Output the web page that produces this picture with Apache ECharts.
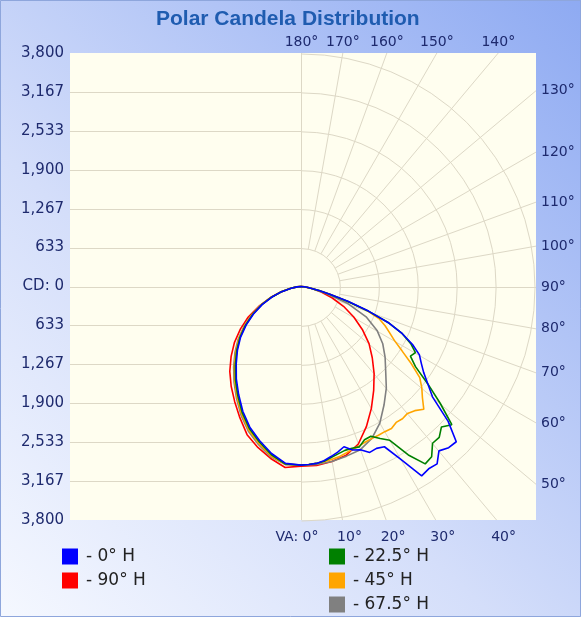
<!DOCTYPE html>
<html>
<head>
<meta charset="utf-8">
<title>Polar Candela Distribution</title>
<script src="https://cdn.jsdelivr.net/npm/echarts@6/dist/echarts.min.js"></script>
<style>
  html, body { margin: 0; padding: 0; }
  #chart { width: 581px; height: 617px; }
</style>
</head>
<body>
<div id="chart"></div>
<script>
// vertical angles (deg); the noisy planes were read every 2.5, the smooth ones every 5
const vaFine = [0, 2.5, 5, 7.5, 10, 12.5, 15, 17.5, 20, 22.5, 25, 27.5, 30, 32.5, 35, 37.5, 40, 42.5,
  45, 47.5, 50, 52.5, 55, 57.5, 60, 62.5, 65, 67.5, 70, 72.5, 75, 77.5, 80, 82.5, 85, 87.5, 90];
const vaCoarse = [0, 5, 10, 15, 20, 25, 30, 35, 40, 45, 50, 55, 60, 65, 70, 75, 80, 85, 90];

// candela on the right half (H) of each plane, vaFine / vaCoarse
const cdH0 = [2907, 2900, 2890, 2860, 2810, 2760, 2700, 2790, 2826, 2923, 2907, 2940, 3250, 3654, 3622, 3638, 3492, 3557,
  3573, 3248, 2793, 2600, 2436, 2320, 2225, 2046, 1819, 1540, 1169, 800, 487, 300, 162, 100, 49, 20, 0];
const cdH22 = [2907, 2900, 2890, 2870, 2826, 2790, 2761, 2760, 2777, 2700, 2690, 2790, 2890, 3250, 3524, 3492, 3330, 3329,
  3232, 3329, 2956, 2598, 2274, 2111, 2150, 2014, 1819, 1543, 1150, 780, 480, 290, 160, 95, 49, 20, 0];
const cdH45 = [2907, 2900, 2890, 2875, 2858, 2840, 2810, 2780, 2761, 2740, 2728, 2730, 2728, 2740, 2700, 2712, 2696, 2740,
  2826, 2680, 2566, 2436, 2192, 1949, 1754, 1624, 1510, 1380, 1137, 780, 487, 300, 162, 95, 49, 20, 0];
const cdH67 = [2907, 2907, 2891, 2858, 2826, 2728, 2566, 2355, 2160, 1949, 1786, 1624, 1429, 1169, 812, 406, 146, 49, 0];
const cdH90 = [2923, 2923, 2891, 2842, 2728, 2517, 2290, 2062, 1851, 1640, 1445, 1218, 991, 763, 536, 341, 179, 65, 0];

// candela on the left half (H + 180), vaCoarse
const cdH180 = [2907, 2890, 2760, 2598, 2436, 2241, 2030, 1835, 1640, 1462, 1283, 1088, 893, 698, 503, 325, 162, 65, 0];
const cdH202 = [2907, 2900, 2780, 2620, 2460, 2265, 2055, 1858, 1662, 1480, 1300, 1105, 905, 710, 510, 330, 165, 65, 0];
const cdH225 = [2907, 2905, 2800, 2645, 2485, 2290, 2080, 1880, 1685, 1500, 1320, 1120, 920, 720, 518, 335, 168, 65, 0];
const cdH247 = [2907, 2910, 2815, 2665, 2505, 2310, 2100, 1900, 1705, 1520, 1335, 1135, 930, 728, 522, 338, 170, 65, 0];
const cdH270 = [2923, 2956, 2842, 2712, 2566, 2355, 2160, 1981, 1803, 1608, 1413, 1202, 991, 747, 536, 341, 179, 65, 0];

const cdTicks = [0, 633, 1267, 1900, 2533, 3167, 3800];
const vaTicks = [0, 10, 20, 30, 40, 50, 60, 70, 80, 90, 100, 110, 120, 130, 140, 150, 160, 170, 180];
const cdMax = 3800;

const gridColor = "#ddd8c6";
const labelColor = "#1e2a6e";
const labelFont = '14px "DejaVu Sans"';

// one closed curve: right half going up from VA 0, then left half coming back down
function plane(vaR, right, vaL, left) {
  const pts = [];
  vaR.forEach((va, i) => {
    const a = (va * Math.PI) / 180;
    pts.push([right[i] * Math.sin(a), -right[i] * Math.cos(a)]);
  });
  for (let i = vaL.length - 1; i >= 0; i--) {
    const a = (vaL[i] * Math.PI) / 180;
    pts.push([-left[i] * Math.sin(a), -left[i] * Math.cos(a)]);
  }
  return pts;
}

function drawGrid(params, api) {
  const box = params.coordSys;
  const c = api.coord([0, 0]);
  const k = (c[1] - api.coord([0, cdMax])[1]) / cdMax;
  const cx = Math.round(c[0]) + 0.5;
  const cy = Math.round(c[1]) + 0.5;
  const right = box.x + box.width;
  const bottom = box.y + box.height;
  const kids = [];
  const line = (x1, y1, x2, y2) =>
    kids.push({ type: "line", shape: { x1, y1, x2, y2 }, style: { stroke: gridColor, lineWidth: 1 } });
  const text = (x, y, t, align, vAlign) =>
    kids.push({ type: "text", x, y, style: { text: t, fill: labelColor, font: labelFont, align, verticalAlign: vAlign } });

  // left half: horizontal candela lines; right half: arcs
  cdTicks.slice(1).forEach((t) => {
    [t, -t].forEach((v) => {
      const y = Math.round(api.coord([0, v])[1]) + 0.5;
      if (y > box.y + 1 && y < bottom - 1) line(box.x, y, cx, y);
    });
    kids.push({
      type: "arc",
      shape: { cx, cy, r: t * k, startAngle: -Math.PI / 2, endAngle: Math.PI / 2, clockwise: true },
      style: { stroke: gridColor, fill: "none", lineWidth: 1 },
    });
  });
  line(box.x, cy, right, cy);
  line(cx, box.y, cx, bottom);

  // radial lines out to the frame, angle labels outside it
  const r0 = cdTicks[1] * k;
  vaTicks.forEach((va) => {
    const a = (va * Math.PI) / 180;
    const s = Math.sin(a);
    const co = Math.cos(a);
    const tx = s > 1e-6 ? (right - cx) / s : Infinity;
    const ty = co > 1e-6 ? (bottom - cy) / co : co < -1e-6 ? (box.y - cy) / co : Infinity;
    const t = Math.min(tx, ty);
    const ex = cx + s * t;
    const ey = cy + co * t;
    if (va % 90 !== 0) line(cx + s * r0, cy + co * r0, ex, ey);
    if (tx <= ty) text(right + 5, ey, va + "°", "left", "middle");
    else if (co > 0) {
      if (va === 0) text(ex + 17, bottom + 10, "VA: 0°", "right", "top");
      else text(ex + 7, bottom + 10, va + "°", "center", "top");
    } else text(ex, box.y - 4, va + "°", "center", "bottom");
  });
  return { type: "group", children: kids };
}

function fmtCd(v) {
  const n = Math.round(Math.abs(v));
  return n === 0 ? "CD: 0" : n.toLocaleString("en-US");
}

const legendBase = {
  orient: "vertical",
  top: 548,
  padding: 0,
  icon: "rect",
  itemWidth: 16,
  itemHeight: 16,
  itemGap: 7,
  formatter: (name) => "- " + name,
  itemStyle: { borderWidth: 0 },
  textStyle: { fontFamily: "DejaVu Sans", fontSize: 17, color: "#222", padding: [0, 0, 0, 3] },
};

const chart = echarts.init(document.getElementById("chart"));
chart.setOption({
  animation: false,
  backgroundColor: new echarts.graphic.LinearGradient(0, 1, 1, 0, [
    { offset: 0, color: "#f5f8ff" },
    { offset: 0.4, color: "#d4defa" },
    { offset: 1, color: "#8eaaf2" },
  ]),
  title: {
    text: "Polar Candela Distribution",
    left: 151,
    top: 4,
    textStyle: { fontFamily: "Liberation Sans", fontSize: 21, fontWeight: "bold", color: "#1f5cb0" },
  },
  graphic: [
    {
      type: "rect",
      shape: { x: 0.5, y: 0.5, width: 580, height: 616 },
      style: { fill: "none", stroke: "#8ea6dc", lineWidth: 1 },
      silent: true,
    },
  ],
  legend: [
    Object.assign({ left: 62, data: ["0° H", "90° H"] }, legendBase),
    Object.assign({ left: 329, data: ["22.5° H", "45° H", "67.5° H"] }, legendBase),
  ],
  grid: { left: 70, top: 53, width: 466, height: 467, show: true, backgroundColor: "#fffeef", borderWidth: 0 },
  xAxis: { type: "value", min: -3759, max: 3824, show: false },
  yAxis: {
    type: "value",
    min: -cdMax,
    max: cdMax,
    interval: cdMax / 6,
    axisLine: { show: false },
    axisTick: { show: false },
    splitLine: { show: false },
    axisLabel: { formatter: fmtCd, color: labelColor, fontFamily: "DejaVu Sans", fontSize: 15, margin: 6 },
  },
  series: [
    { type: "custom", silent: true, z: 1, data: [[0, 0]], renderItem: drawGrid },
    { name: "90° H", type: "line", color: "#ff0000", data: plane(vaCoarse, cdH90, vaCoarse, cdH270) },
    { name: "67.5° H", type: "line", color: "#808080", data: plane(vaCoarse, cdH67, vaCoarse, cdH247) },
    { name: "45° H", type: "line", color: "#ffa500", data: plane(vaFine, cdH45, vaCoarse, cdH225) },
    { name: "22.5° H", type: "line", color: "#008000", data: plane(vaFine, cdH22, vaCoarse, cdH202) },
    { name: "0° H", type: "line", color: "#0000ff", data: plane(vaFine, cdH0, vaCoarse, cdH180) },
  ].map((s) =>
    s.type === "line"
      ? Object.assign(s, { symbol: "none", z: 3, lineStyle: { width: 1.6, color: s.color }, itemStyle: { color: s.color } })
      : s
  ),
});
</script>
</body>
</html>
